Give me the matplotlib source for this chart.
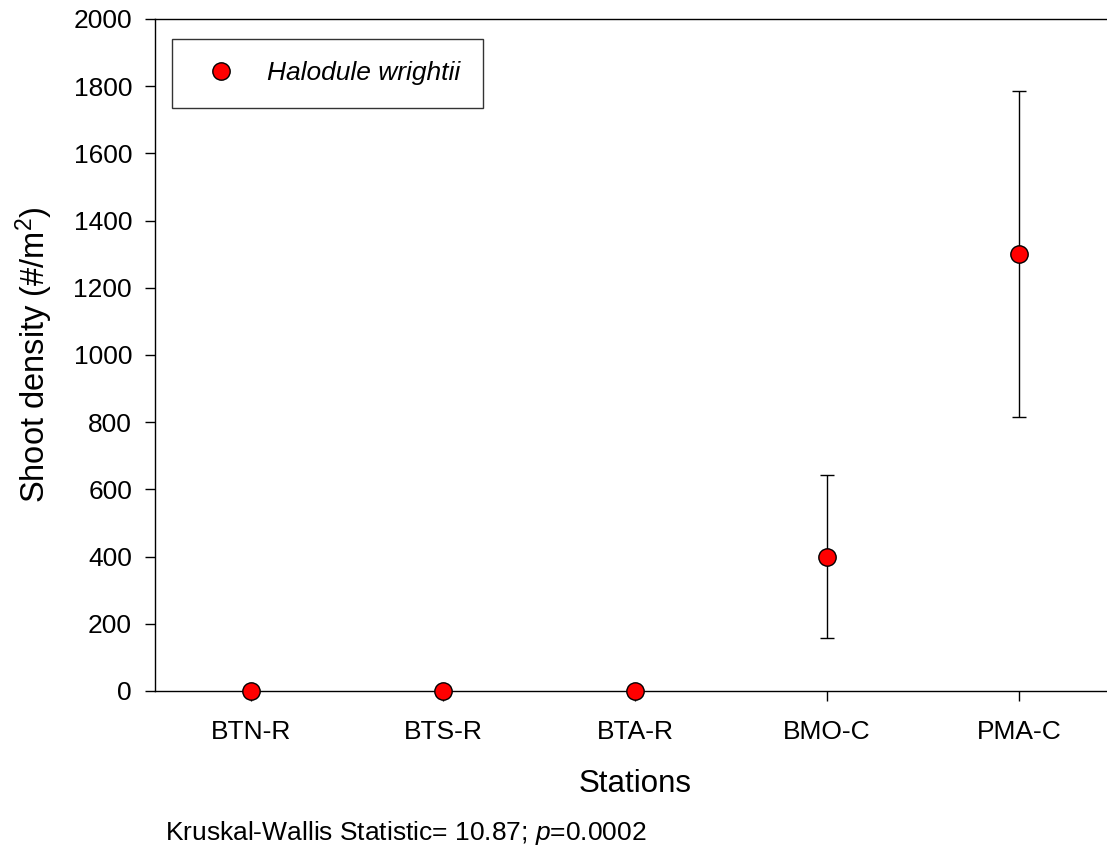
import matplotlib
matplotlib.use("Agg")
import matplotlib.pyplot as plt
import numpy as np

plt.rcParams["font.family"] = ["Liberation Sans", "DejaVu Sans"]
plt.rcParams["mathtext.fontset"] = "custom"
plt.rcParams["mathtext.rm"] = "Liberation Sans"
plt.rcParams["mathtext.it"] = "Liberation Sans:italic"

stations = ["BTN-R", "BTS-R", "BTA-R", "BMO-C", "PMA-C"]
density = [0, 0, 0, 400, 1300]
err = [0, 0, 0, 243, 485]

W, H = 1107, 848
fig = plt.figure(figsize=(W / 100, H / 100), dpi=100)
ax = fig.add_axes([155 / W, (H - 691) / H, 960 / W, 672 / H])

x = np.arange(1, len(stations) + 1)
ax.errorbar(x, density, yerr=err, fmt="none", ecolor="black", elinewidth=1.0,
            capsize=5, capthick=1.0, zorder=2)
ax.plot(x, density, "o", color="red", markeredgecolor="black", markeredgewidth=1.0,
        markersize=12.5, label="Halodule wrightii", zorder=3, clip_on=False)

ax.set_xlim(0.5, 5.5)
ax.set_ylim(0, 2000)
ax.set_xticks(x)
ax.set_xticklabels(stations)
ax.set_yticks(np.arange(0, 2001, 200))
ax.tick_params(direction="out", length=7, width=1.0, labelsize=19)
ax.tick_params(axis="x", pad=14)
ax.tick_params(axis="y", pad=9.5)
for s in ax.spines.values():
    s.set_linewidth(1.0)
ax.spines["right"].set_visible(False)

ax.set_xlabel("Stations", fontsize=22.5, labelpad=18)
ax.set_ylabel("Shoot density (#/m$^2$)", fontsize=23.5, labelpad=13)

leg = ax.legend(loc="upper left", bbox_to_anchor=(17 / 960, 1 - 20 / 672),
                frameon=True, fancybox=False, edgecolor="black",
                prop={"style": "italic", "size": 19},
                borderpad=0.85, handletextpad=0.75, borderaxespad=0)
leg.get_frame().set_linewidth(1.0)

fig.text(165 / W, 1 - 840 / H, "Kruskal-Wallis Statistic= 10.87; $\\it{p}$=0.0002",
         fontsize=19, va="baseline", ha="left")

fig.savefig("out.png", dpi=100)
